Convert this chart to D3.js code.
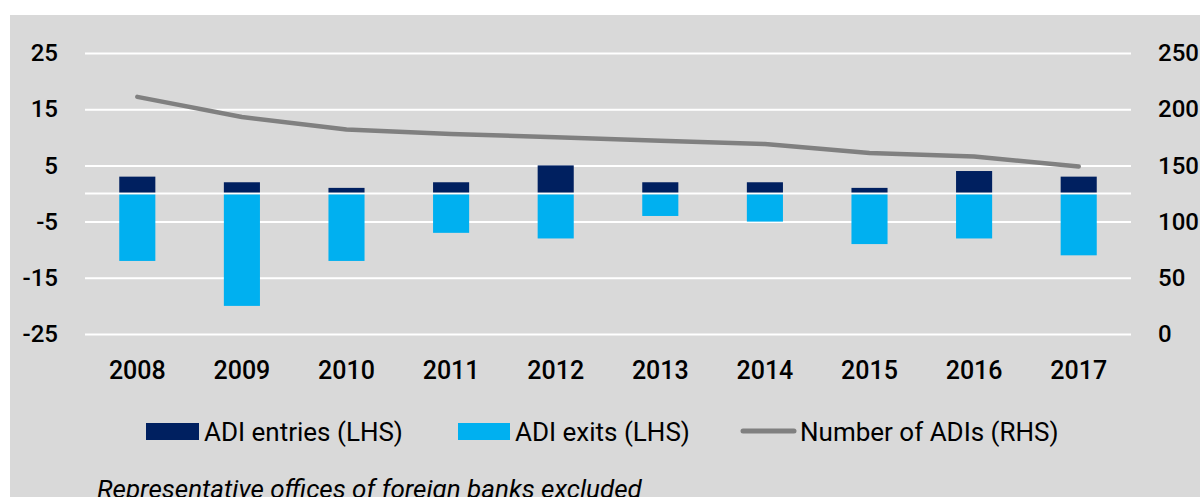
<!DOCTYPE html>
<html>
<head>
<meta charset="utf-8">
<script type="text/javascript" src="https://cdn.jsdelivr.net/npm/d3@7"></script>
<title>ADI entries and exits</title>
<style>
body { margin:0; background:#fff; }
text { font-family: Roboto, "DejaVu Sans", sans-serif; fill:#000; }
</style>
</head>
<body>
<div id="chart"></div>
<script type="text/javascript">
(function(){

var years = ["2008","2009","2010","2011","2012","2013","2014","2015","2016","2017"];
var entries = [3, 2, 1, 2, 5, 2, 2, 1, 4, 3];
var exits = [-12, -20, -12, -7, -8, -4, -5, -9, -8, -11];
var numADIs = [211, 193, 182, 178, 175, 172, 169, 161, 158, 149];
var leftTicks = [-25, -15, -5, 5, 15, 25];
var rightTicks = [0, 50, 100, 150, 200, 250];

var w = 1200, h = 497;
var left = 85, right = 1131, top = 53, bottom = 334;

var svg = d3.select("#chart").append("svg")
    .attr("width", w).attr("height", h);

svg.append("rect")
   .attr("x", 10).attr("y", 15)
   .attr("width", w-10).attr("height", h-15)
   .attr("fill", "#d9d9d9");

var x = d3.scaleBand().domain(years).range([left, right])
    .paddingInner(0.655).paddingOuter(0.3275);
var y = d3.scaleLinear().domain([-25, 25]).range([bottom, top]);
var yR = d3.scaleLinear().domain([0, 250]).range([bottom, top]);

var plain = function(d) { return String(d); };

// gridlines + left labels
var gl = svg.append("g").attr("transform", "translate(" + left + ",0)")
   .call(d3.axisLeft(y).tickValues(leftTicks).tickFormat(plain)
         .tickSize(-(right-left)).tickPadding(27));
gl.select(".domain").remove();
gl.selectAll(".tick line").attr("stroke", "#fff").attr("stroke-width", 2);
gl.selectAll(".tick text").style("font-size", "24px").style("font-weight", 500)
   .attr("fill", "#000");

// right labels
var gr = svg.append("g").attr("transform", "translate(" + right + ",0)")
   .call(d3.axisRight(yR).tickValues(rightTicks).tickFormat(plain)
         .tickSize(0).tickPadding(27));
gr.select(".domain").remove();
gr.selectAll(".tick text").style("font-size", "24px").style("font-weight", 500)
   .attr("fill", "#000");

// zero line
svg.append("line")
   .attr("x1", left).attr("x2", right)
   .attr("y1", y(0)).attr("y2", y(0))
   .attr("stroke", "#fff").attr("stroke-width", 2);

// bars
svg.selectAll("rect.entry")
   .data(entries).enter().append("rect")
   .attr("class", "entry")
   .attr("x", function(d,i) { return x(years[i]); })
   .attr("y", function(d) { return y(d); })
   .attr("width", x.bandwidth())
   .attr("height", function(d) { return y(0) - y(d) - 1; })
   .attr("fill", "#002060");

svg.selectAll("rect.exit")
   .data(exits).enter().append("rect")
   .attr("class", "exit")
   .attr("x", function(d,i) { return x(years[i]); })
   .attr("y", y(0) + 1)
   .attr("width", x.bandwidth())
   .attr("height", function(d) { return y(d) - y(0) - 1; })
   .attr("fill", "#00b0f0");

// number of ADIs line
var line = d3.line()
   .x(function(d,i) { return x(years[i]) + x.bandwidth()/2; })
   .y(function(d) { return yR(d); });

svg.append("path")
   .datum(numADIs)
   .attr("d", line)
   .attr("fill", "none")
   .attr("stroke", "#808080")
   .attr("stroke-width", 4.5)
   .attr("stroke-linecap", "round")
   .attr("stroke-linejoin", "round");

// x labels
var gx = svg.append("g").attr("transform", "translate(0," + bottom + ")")
   .call(d3.axisBottom(x).tickSize(0).tickPadding(27));
gx.select(".domain").remove();
gx.selectAll(".tick text").style("font-size", "25px").style("font-weight", 500)
   .attr("fill", "#000");

// legend
var lg = svg.append("g");
lg.append("rect").attr("x", 146).attr("y", 423).attr("width", 53).attr("height", 17).attr("fill", "#002060");
lg.append("text").attr("x", 204).attr("y", 441).style("font-size", "26px").text("ADI entries (LHS)");
lg.append("rect").attr("x", 458).attr("y", 423).attr("width", 52).attr("height", 17).attr("fill", "#00b0f0");
lg.append("text").attr("x", 515).attr("y", 441).style("font-size", "26px").text("ADI exits (LHS)");
lg.append("line").attr("x1", 743).attr("x2", 794).attr("y1", 431).attr("y2", 431)
   .attr("stroke", "#808080").attr("stroke-width", 5).attr("stroke-linecap", "round");
lg.append("text").attr("x", 800).attr("y", 441).style("font-size", "26px").text("Number of ADIs (RHS)");

// note
svg.append("text").attr("x", 97).attr("y", 498)
   .style("font-size", "26px").style("font-style", "italic")
   .text("Representative offices of foreign banks excluded");

})();
</script>
</body>
</html>
